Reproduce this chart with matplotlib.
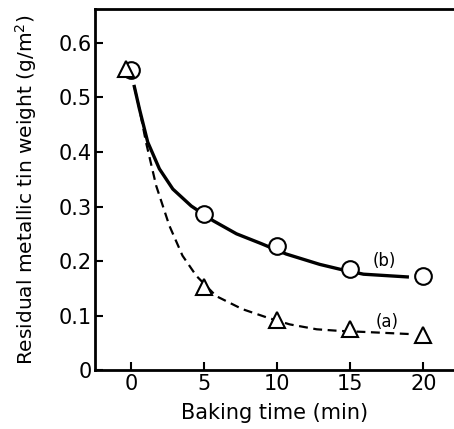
import matplotlib
matplotlib.use("Agg")
import matplotlib.pyplot as plt

# ======================
# DATOS
# ======================
# puntos medidos
t_b = [0, 5, 10, 15, 20]
w_b = [0.55, 0.286, 0.228, 0.185, 0.172]

t_a = [-0.4, 5, 10, 15, 20]
w_a = [0.552, 0.152, 0.092, 0.075, 0.065]

# curvas trazadas a mano
curve_b_t = [0.2, 0.55, 1.12, 1.92, 2.84, 4.1, 5.6, 7.2, 8.9, 10.6, 12.9, 14.3, 15.9, 18.9]
curve_b_w = [0.52, 0.479, 0.418, 0.369, 0.332, 0.301, 0.274, 0.25, 0.232, 0.213, 0.194, 0.185, 0.176, 0.171]

curve_a_t = [0.2, 0.55, 1.0, 1.7, 2.6, 3.5, 4.45, 5.8, 7.6, 9.25, 10.85, 12.7, 14.3, 16.1, 19.3]
curve_a_w = [0.52, 0.479, 0.418, 0.338, 0.265, 0.21, 0.173, 0.136, 0.112, 0.097, 0.084, 0.075, 0.072, 0.07, 0.066]

x_ticks = [0, 5, 10, 15, 20]
y_ticks = [0, 0.1, 0.2, 0.3, 0.4, 0.5, 0.6]
y_ticklabels = ["0", "0.1", "0.2", "0.3", "0.4", "0.5", "0.6"]

# ======================
# GRAFICAR
# ======================
fig = plt.figure(figsize=(4.54, 4.29), dpi=100)
ax = fig.add_axes([0.209, 0.137, 0.791, 0.842])

ax.plot(curve_b_t, curve_b_w, "-", color="black", lw=2.4, solid_joinstyle="round")
ax.plot(curve_a_t, curve_a_w, "--", color="black", lw=1.6, dashes=(4, 2.5))

ax.plot(t_b, w_b, "o", ms=12, mfc="white", mec="black", mew=1.5)
ax.plot(t_a, w_a, "^", ms=12, mfc="white", mec="black", mew=1.5)

ax.text(17.3, 0.2, "(b)", fontsize=12, ha="center", va="center")
ax.text(17.5, 0.088, "(a)", fontsize=12, ha="center", va="center")

ax.set_xlim(-2.5, 22.1)
ax.set_ylim(0, 0.662)
ax.set_xticks(x_ticks)
ax.set_yticks(y_ticks)
ax.set_yticklabels(y_ticklabels)
ax.tick_params(direction="in", length=6, width=1.5, labelsize=15)
ax.tick_params(axis="y", pad=2)
ax.tick_params(axis="x", pad=3)

for s in ["left", "bottom", "top"]:
    ax.spines[s].set_linewidth(2)
ax.spines["right"].set_visible(False)

ax.set_xlabel("Baking time (min)", fontsize=15, labelpad=6)
ax.set_ylabel("Residual metallic tin weight (g/m$^2$)", fontsize=14.5, labelpad=14)

plt.savefig("out.png", dpi=100)
